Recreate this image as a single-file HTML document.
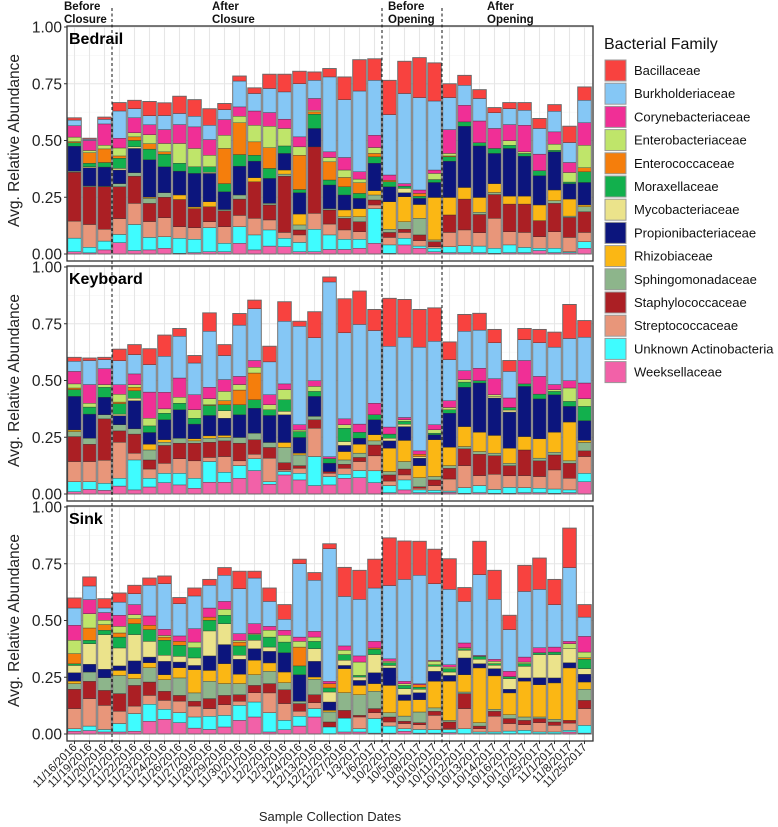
<!DOCTYPE html>
<html><head><meta charset="utf-8"><style>
body{margin:0;background:#fff;}
svg{display:block;font-family:"Liberation Sans",Arial,sans-serif;}
</style></head><body>
<svg id="chart" width="778" height="827" viewBox="0 0 778 827" xmlns="http://www.w3.org/2000/svg"></svg>
<script>
const families = ["Weeksellaceae","Unknown Actinobacteria","Streptococcaceae","Staphylococcaceae","Sphingomonadaceae","Rhizobiaceae","Propionibacteriaceae","Mycobacteriaceae","Moraxellaceae","Enterococcaceae","Enterobacteriaceae","Corynebacteriaceae","Burkholderiaceae","Bacillaceae"];
const familyColors = ["#F261A8","#3FFCFF","#E8967A","#AB1F24","#8DB58B","#FBB714","#0C157D","#EBE38B","#12B04D","#F57E0C","#BFE56A","#F02F96","#85C7F5","#F8423F"];
const dates = ["11/16/2016","11/19/2016","11/20/2016","11/21/2016","11/22/2016","11/23/2016","11/24/2016","11/26/2016","11/27/2016","11/28/2016","11/29/2016","11/30/2016","12/1/2016","12/2/2016","12/3/2016","12/4/2016","12/13/2016","12/21/2016","12/27/2016","1/3/2017","1/6/2017","10/2/2017","10/5/2017","10/8/2017","10/10/2017","10/11/2017","10/12/2017","10/13/2017","10/14/2017","10/16/2017","10/17/2017","10/25/2017","11/1/2017","11/8/2017","11/25/2017"];
const panelNames = ["Bedrail","Keyboard","Sink"];
const yTicks = [0,0.25,0.5,0.75,1];
const yTickLabels = ["0.00","0.25","0.50","0.75","1.00"];
const phaseBreaks = [3,21,25];
const phaseLabels = [["Before","Closure"],["After","Closure"],["Before","Opening"],["After","Opening"]];
// values in percent, per bar, order bottom->top as in families
const bedrailValues = [
[1,6,7.5,21.5,.5,0,11,0,1.5,.5,2,5,2.5,1],
[.5,2.5,10,16.6,.4,0,8,.4,1.6,4.6,1,4.4,.5,.5],
[1.8,3.9,5.2,18.7,.3,0,8.4,0,2,6,1.6,9.4,2,1],
[5,3.6,7,14,1.4,0,6,.7,4.5,1,3.5,4.3,12,3.7],
[1.5,11.5,9.3,12,1.5,0,10.7,.7,2.8,1.6,1.8,6.6,4,3.7],
[1.8,5.5,7,8,2.2,.5,16.5,0,4.7,2.4,3.9,4.4,4,6.3],
[2.5,5.1,8.4,9,2,0,11.4,0,5.6,1,3.7,6.1,6.2,5.6],
[.3,6.6,5.1,12,0,2,10.5,0,3.5,0,8.7,8.3,4.9,7.6],
[.6,5.9,5.1,8.4,0,.7,14.8,0,2.9,0,8.1,9.5,4.7,7.3],
[1,10.6,2.6,6.6,0,2.2,12.5,.5,2.4,0,5.1,6.9,6.3,7.3],
[1,3.7,7.3,7,.6,0,7.8,0,3.6,15.5,5.8,6.9,4.4,2.7],
[4.7,7.3,5,7.2,1.8,0,12.7,0,5.1,14,2.9,4.1,11.4,2.2],
[1.8,6.6,7.3,16.1,0,1.8,7.3,0,2.6,5.9,7.3,6.3,7.7,2.5],
[3.5,7.1,4.4,6.6,.7,0,11,0,4.4,9.1,9.5,6,10.6,6.3],
[3.2,3.7,2.6,24.8,.9,1.8,7.3,0,3.3,0,7.7,4.1,12,7.8],
[1,4.1,3.3,2.2,2.2,4.8,9.4,0,1.4,15.1,3.7,4.4,23.4,5.5],
[1,9.9,7,29.3,0,0,8.1,0,6.3,1,.7,5.2,8,3.7],
[2,6.4,4.8,6.2,.6,0,10.4,0,2.2,8,1.9,2.5,33,3.7],
[2,4.5,4.1,5.1,.7,3,6.6,0,3.6,4.1,3.3,5.5,25.5,10],
[2.5,4,3.3,4.4,2.2,3.6,4.5,0,2.2,4.7,1.6,3.2,35.6,13.8],
[4.7,15.3,1.6,2.2,2.2,1.9,12.1,0,2.8,1.5,2.6,5.4,24.2,9.5],
[.3,3.7,3.3,2.2,1.4,12.1,6.6,0,2.2,.7,0,2.3,26.6,15.1],
[4,2.9,2.6,1.4,3.3,11,1.8,1.9,1,0,0,1.1,39.7,14.2],
[2.5,1,2.4,2.5,7.3,6.1,2.7,0,.9,1.3,0,1.5,40.7,17.6],
[1,1.5,.7,2.2,.8,18.7,6.6,0,1.3,0,2.7,1.5,30.4,16.8],
[.6,2.6,6.3,7.7,0,7.7,16,0,1.9,.4,1.1,10.5,14.1,6.1],
[.6,3.1,6.9,13.6,0,5.1,27,0,1.9,0,0,7.3,8.8,4.4],
[.6,2.9,5.9,8,1,6.5,22.7,0,1.4,0,0,9.6,9.9,3.9],
[.3,2.2,13.2,10.5,.9,3.9,13.3,0,2.2,0,0,8.8,6.9,2.3],
[.6,3.4,5.8,12.2,0,3.5,21,0,1.4,0,2,7.1,7,2.7],
[.6,2.3,6.6,12.5,0,3.5,17.6,0,1.2,0,.7,11.7,6.6,3.4],
[1.5,1,5.1,7.1,0,6.9,12.9,0,2.2,0,0,7.3,11.3,4.4],
[.6,1.9,7.3,12.5,1.2,4.7,16.8,0,.7,0,2.7,5.4,9.1,2.9],
[.6,.4,6.3,8.8,.6,7.5,6.8,0,.7,0,4.2,4.4,8.8,7.2],
[2.5,2.9,4.1,9.1,2.2,.8,9.9,0,4.7,1.8,9.9,9.9,9.9,5.9]];
const keyboardValues = [
[1,4.4,8.9,11,2.2,.7,14.8,0,3,.7,1.8,5.5,4.5,1.7],
[2,3.4,8.9,7.6,2.7,0,10.6,0,3.1,0,1.7,8.2,10.6,1.1],
[1.6,3.1,10.2,18.2,1.8,0,7.7,0,4.4,0,1.2,7,4,1],
[3.5,3.4,15.9,5,2.7,0,4,.7,4.6,.7,3.4,4.2,10.6,5.1],
[1.8,13.2,3,8.4,2.3,0,12.4,1.1,3.3,1.5,1.2,4.7,8.5,4.4],
[3.1,3.8,4.1,4,4.4,2.5,5.2,0,2.9,0,3.4,11.5,12.1,7],
[5,4.1,4.4,7.9,1.4,1.1,8.8,0,2.9,0,1.9,7.3,15.9,9.3],
[4,5.1,6.4,6.9,2.2,0,12.5,0,2.9,0,2.6,8.5,18.4,3.4],
[2.5,4.4,7.7,7.8,1,.9,6.5,0,2.6,0,3.7,6.6,14,3.3],
[5.2,9.1,1.8,6.7,1.8,1,9,0,4.4,.3,2.7,5,24.7,8.1],
[5.2,4.4,6.9,6.9,1.5,.9,7.6,3.3,2.6,1.8,4.1,5.2,10.6,4.8],
[6.9,5.6,2.1,7.8,2.5,0,10,0,4.4,6.5,2.4,3.6,22.6,5.1],
[10.3,5.2,2,6.4,2.9,0,11,0,3.7,11.8,2.5,3,22.8,3.8],
[4.3,1.1,10.4,4.7,2.2,0,11.9,0,2.5,0,2.2,4.4,14.5,6.9],
[8.4,1.5,.7,3.2,6.7,2.2,12.2,1.5,5.1,0,4.5,2.5,27.6,8.6],
[6.2,2.9,2.2,1.2,4.7,.8,6.9,0,2.6,0,.7,2.3,43.4,2.2],
[3.7,12.8,12.5,3.7,1.5,0,8.8,0,2.2,0,2.2,2.5,18.9,11.5],
[4,3.7,1.4,.8,0,0,3.7,0,2,0,0,.8,77,2.2],
[6.9,1.8,2.6,1.8,1.9,3.7,2.7,1.7,5.9,0,1.5,2.6,37.9,15],
[7.2,3.1,4,1.8,1.9,3.9,2.7,0,2.6,0,0,3.6,43.9,14.7],
[5,5.2,6.6,4.8,1.8,2.7,6.6,0,2.2,0,0,5.1,32,9.3],
[.6,3.1,2,2.7,1.5,10.3,3.2,1.2,1.8,0,0,3.1,35.6,21.1],
[1.8,4.4,2.2,2.6,3.3,9.3,6.1,1,1.3,0,.7,1,35.4,16.6],
[.6,1.2,.7,.7,4,5.3,3.3,.7,0,1,0,1.5,45.7,16.6],
[.6,1,2.1,2.5,1.5,16.2,2.2,0,.7,0,1.5,2.2,36.8,14.7],
[.7,.6,5.3,4.7,1.2,8.1,15,0,1.5,0,1,3,18.1,7.8],
[.3,2.5,9.7,7.4,1,8.8,17.3,0,2.3,0,1.1,3.9,17.4,7.4],
[.6,3.1,4.4,9.4,1.2,8.5,21.7,0,1,0,0,5.5,16.8,7.4],
[.3,1.7,6.7,8.2,1.1,7.8,16.5,.7,0,0,.7,7.1,15.8,5.9],
[.3,2.6,5.1,4.5,1,6.7,15.9,.9,1.1,0,0,4.2,11.7,4.8],
[.6,2.2,5.3,11.3,0,5.9,22.1,0,1.1,0,0,10.3,9.2,4.9],
[.6,1.9,5.2,6.9,1.2,8.5,17.6,0,2.1,0,0,7.8,14.8,5.9],
[.3,1.9,8.4,6.6,1.2,8.8,16.5,0,1.5,0,.7,2.3,16.5,6.6],
[.6,1.2,5.1,6.6,1.1,17.1,6.9,0,2.2,0,5.9,3.2,18.6,15],
[5.4,3.7,7.4,2.5,3.7,.9,8.7,0,6.3,0,3.4,6.9,20.2,7.3]];
const sinkValues = [
[1.2,1.1,8.9,8.5,2.5,1.1,3.7,3.2,.7,4.5,5.9,6.6,7.6,4.4],
[1.5,2,12.1,7.6,4.1,0,3.4,9.1,1.5,5.4,6.3,6.2,6,4],
[.9,1.1,10.6,6.6,5.6,0,3.7,15.3,1.9,2.5,1.9,3.4,2,4.1],
[.9,3.7,5.4,7.8,8,2.2,2,7.9,4.8,1.8,2.9,4.9,5.8,4],
[1.2,7.8,3.3,9.1,3,2.2,5.6,11.6,4.8,2.2,1.8,4.4,4.8,3.7],
[5.6,7.5,3.9,5.9,6.3,2.2,2.5,6.9,5.2,1.9,0,4.1,13.5,3.2],
[6.5,4.4,3.9,4,5.1,2.2,5.9,2.7,6.6,1.4,.7,2.7,20.1,3.4],
[5,4.4,5.1,2.5,7.7,4.5,2.5,2.5,4.9,1.7,0,2.4,14.2,2.7],
[2.6,4.9,4.8,2.1,3.7,10.2,1.9,3.3,4.5,0,2.5,5.9,14.4,3.5],
[2,5.8,3.4,4.4,7.6,4.8,6.4,11,4.7,1.4,0,4,10,2.6],
[3.1,5.1,4.7,4.1,5.2,8.8,8.4,9.2,3.7,0,2.6,3.5,11.5,3.4],
[6,6.6,1.8,2.9,4.9,4.1,6.6,1.8,4.1,1.7,.7,3,19.8,7.7],
[7.5,6.6,4.1,3.2,4.7,6.4,5.1,3.7,2.5,0,.4,4.4,20.1,3],
[.9,8.5,8.7,4.1,5.4,3.7,5.1,1.9,4.4,0,3,1.7,11,5.9],
[1.9,4.1,7.4,6.1,3.1,4.7,8.5,0,4.7,0,3,2.2,4.8,6.5],
[3.5,4.3,2.2,3.4,1,0,11.7,0,3.9,8.3,2.5,1.9,32.3,2],
[7.5,3.7,2.6,3.5,6.8,1,6.9,5.6,3.2,0,1.9,2.5,22.5,3.4],
[.2,2.9,0,2.2,4.4,.7,3.7,4.4,1.8,1.9,0,1,58.4,2.2],
[.9,6.1,0,3.4,7.8,10.6,1.4,2.3,2.5,0,1.9,1.9,21.8,12.8],
[.9,1.4,5.2,.7,9.1,4.1,2.2,1.5,.7,0,5.9,2.7,24.9,12.8],
[.4,6.4,2.6,1.8,7.6,3.4,4.8,8,2.3,.6,0,2.9,23.5,12.7],
[.4,3.1,1.8,2.2,1.9,12,7.7,1.1,1.2,0,.6,1.1,32.3,21],
[1.2,1.1,2.3,1,2.3,6.9,2.5,2.7,1.4,0,.7,1.1,44.9,16.9],
[.4,1.6,2.1,.9,4.7,5.4,3.1,1.5,.9,1.1,0,.4,47.8,15],
[.4,1.5,6.3,1.8,1.5,11.7,4.4,2.2,.7,0,1.5,.4,33.8,15.2],
[.6,1.3,.5,2.9,.7,17.3,2.5,1.5,1.5,0,.7,1,33.2,13.5],
[.2,2.1,8.9,6.6,.7,7.6,7.4,3.4,.7,0,.4,2.1,18.3,6.1],
[.2,.7,1.4,1.2,1.5,24.1,1.9,1.9,1.3,0,0,.4,35.6,14.7],
[.2,.7,6.9,2.2,.9,14.7,3.2,1.5,.7,0,1,.9,26.4,12.8],
[.2,1.1,3.3,2.2,1.7,9.6,1.6,4.7,.9,0,0,2.3,18.4,6.3],
[.2,1.4,2.5,1.9,1.5,15.8,1.4,5.1,1.2,0,.7,2.2,28.9,11.5],
[.2,.7,4.1,1.8,.7,14.2,3.1,10.2,.8,0,0,2.2,25.7,13.8],
[.2,.7,2.9,1.5,1.2,16,2.2,10.3,1.1,0,0,2.2,18.7,11.1],
[.9,.7,3.2,1.2,0,23.1,2.3,6.2,0,0,2.2,1,32.5,17.4],
[.4,3.4,7.4,3.6,4.9,3.2,3.4,2.5,4.1,.7,2.5,6.9,8.5,5.5]];
const panelValues = [bedrailValues, keyboardValues, sinkValues];

const NS = "http://www.w3.org/2000/svg";
const svg = document.getElementById("chart");
const PX0 = 67, PX1 = 593, STEP = 15, BARW = 13.6;
function xScale(i){ return PX0 + STEP * (i + 0.5); }
function yScale(p, v){ return 254 + 240 * p - v * 227; }
function mk(tag, attrs, parent){ const e = document.createElementNS(NS, tag); for (const k in attrs) e.setAttribute(k, attrs[k]); (parent || svg).appendChild(e); return e; }

for (let p = 0; p < 3; p++) {
  const g = mk("g", {});
  
  
  const top = yScale(p, 1) - 1, bot = yScale(p, 0) + 7;
  mk("rect", {x: PX0, y: top, width: PX1 - PX0, height: bot - top, fill: "#fff"}, g);
  // grid
  for (let k = 0; k < 8; k++) { const y = yScale(p, k * 0.125 + 0.125); if (k * 0.125 + 0.125 <= 1) mk("line", {x1: PX0, x2: PX1, y1: y, y2: y, stroke: k % 2 === 0 ? "#f2f2f2" : "#e6e6e6", "stroke-width": k % 2 === 0 ? 0.6 : 1.1}, g); }
  mk("line", {x1: PX0, x2: PX1, y1: yScale(p,0), y2: yScale(p,0), stroke: "#e6e6e6", "stroke-width": 1.1}, g);
  for (let i = 0; i < dates.length; i++) mk("line", {x1: xScale(i), x2: xScale(i), y1: top, y2: bot, stroke: "#e6e6e6", "stroke-width": 1.1}, g);
  // bars
  const vals = panelValues[p];
  for (let i = 0; i < vals.length; i++) {
    const bg = mk("g", {}, g);
    
    
    let cum = 0;
    for (let f = 0; f < families.length; f++) {
      const v = vals[i][f] / 100;
      if (v <= 0) continue;
      const y1 = yScale(p, cum + v), y0 = yScale(p, cum);
      const r = mk("rect", {x: xScale(i) - BARW / 2, y: y1, width: BARW, height: y0 - y1, fill: familyColors[f], stroke: "#2b2b2b", "stroke-width": 0.35}, bg);
      
      
      cum += v;
    }
    mk("rect", {x: xScale(i) - BARW / 2, y: yScale(p, cum), width: BARW, height: yScale(p, 0) - yScale(p, cum), fill: "none", stroke: "#666", "stroke-width": 0.9}, bg);
  }
  mk("rect", {x: PX0, y: top, width: PX1 - PX0, height: bot - top, fill: "none", stroke: "#333", "stroke-width": 1.3}, g);
  // y ticks
  for (let t = 0; t < yTicks.length; t++) {
    const y = yScale(p, yTicks[t]);
    mk("line", {x1: PX0 - 3, x2: PX0, y1: y, y2: y, stroke: "#333", "stroke-width": 1}, g);
    const tl = mk("text", {x: PX0 - 5, y: y + 5.5, "text-anchor": "end", "font-size": 15.5, fill: "#222"}, g);
    tl.textContent = yTickLabels[t];
    
    
  }
  const pl = mk("text", {x: PX0 + 2, y: top + 18, "font-size": 16, "font-weight": "bold", fill: "#000"}, g);
  pl.textContent = panelNames[p];
  
  
  const yc = (yScale(p, 0) + yScale(p, 1)) / 2;
  const yt = mk("text", {x: 19, y: yc, "text-anchor": "middle", "font-size": 15.5, fill: "#222", transform: "rotate(-90 19 " + yc + ")"}, g);
  yt.textContent = "Avg. Relative Abundance";
  
  
}
// phase dashed lines
for (let b = 0; b < phaseBreaks.length; b++) {
  const x = PX0 + STEP * phaseBreaks[b];
  const l = mk("line", {x1: x, x2: x, y1: 8, y2: 743, stroke: "#111", "stroke-width": 1, "stroke-dasharray": "3,2.5"});
  
  
}
const phaseX = [64, 212, 388, 487];
for (let k = 0; k < phaseLabels.length; k++) {
  const t = mk("text", {x: phaseX[k], y: 10, "font-size": 11.5, "font-weight": "bold", fill: "#111"});
  
  
  const s1 = mk("tspan", {x: phaseX[k], dy: 0}, t); s1.textContent = phaseLabels[k][0];
  const s2 = mk("tspan", {x: phaseX[k], dy: 13}, t); s2.textContent = phaseLabels[k][1];
}
// x ticks and labels
for (let i = 0; i < dates.length; i++) {
  const x = xScale(i);
  mk("line", {x1: x, x2: x, y1: 741, y2: 744, stroke: "#333", "stroke-width": 1});
  const t = mk("text", {x: x + 3, y: 748, "text-anchor": "end", "font-size": 11.5, fill: "#222", transform: "rotate(-45 " + (x + 3) + " 748)"});
  t.textContent = dates[i];
  
  
}
const xt = mk("text", {x: 330, y: 821, "text-anchor": "middle", "font-size": 13, fill: "#222"});
xt.textContent = "Sample Collection Dates";


// legend
const lg = mk("g", {});


const lt = mk("text", {x: 604, y: 49, "font-size": 16, fill: "#111"}, lg);
lt.textContent = "Bacterial Family";


for (let k = 0; k < families.length; k++) {
  const f = families.length - 1 - k;
  const y = 60 + k * 23.2;
  const key = mk("rect", {x: 605, y: y, width: 21, height: 21, fill: familyColors[f], stroke: "#999", "stroke-width": 1}, lg);
  
  
  const t = mk("text", {x: 634, y: y + 15, "font-size": 13, fill: "#111"}, lg);
  t.textContent = families[f];
  
  
}
</script>
</body></html>
